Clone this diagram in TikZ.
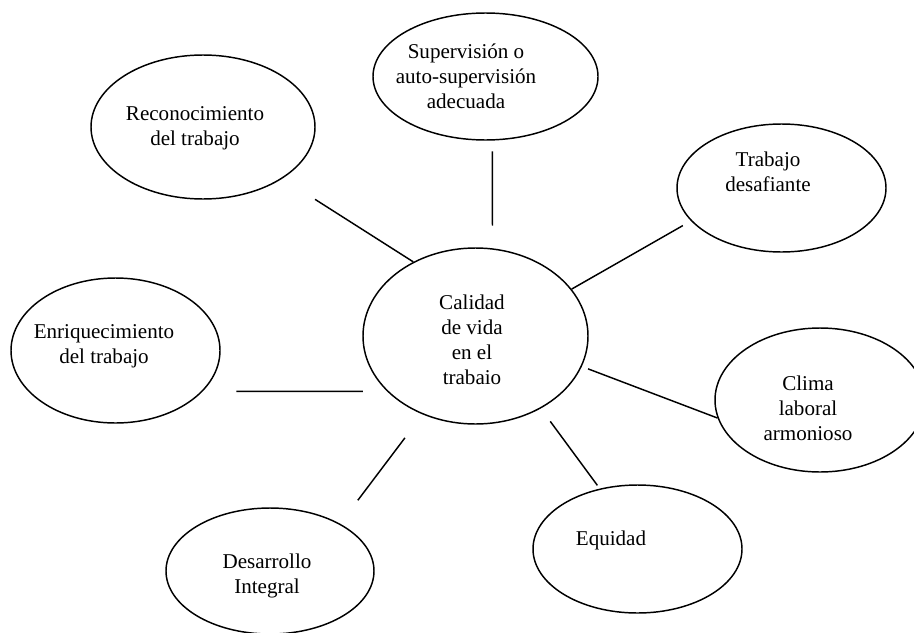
\documentclass[tikz,border=0pt]{standalone}
\usepackage{fontspec}
\setmainfont{Liberation Serif}
\usetikzlibrary{shapes.geometric}
\tikzset{
  burbuja/.style={draw, ellipse, line width=1.1pt, inner sep=0pt},
  texto/.style={align=center, inner sep=0pt, font=\fontsize{15.8}{18.8}\selectfont},
  enlace/.style={line width=1.1pt}
}
\begin{document}
\begin{tikzpicture}[x=0.75pt,y=0.75pt,yscale=-1,xscale=1]
        \useasboundingbox (0,0) rectangle (914,632);

        %Shape: Ellipse [centro]
        \node[burbuja, minimum width=168.75pt, minimum height=132pt] (calidad) at (475.5,336) {};
        %Shape: Ellipse
        \node[burbuja, minimum width=168pt, minimum height=108pt] (reconoc) at (203,127) {};
        %Shape: Ellipse
        \node[burbuja, minimum width=168.75pt, minimum height=95.25pt] (superv) at (485.5,76.5) {};
        %Shape: Ellipse
        \node[burbuja, minimum width=156.75pt, minimum height=96pt] (desaf) at (781.5,188) {};
        %Shape: Ellipse
        \node[burbuja, minimum width=156.75pt, minimum height=108.75pt] (enriq) at (115.5,350.5) {};
        %Shape: Ellipse
        \node[burbuja, minimum width=156pt, minimum height=94.5pt] (desarr) at (270,571) {};
        %Shape: Ellipse
        \node[burbuja, minimum width=157.5pt, minimum height=108pt] (clima) at (820,400) {};
        %Shape: Ellipse
        \node[burbuja, minimum width=156.75pt, minimum height=96pt] (equidad) at (637.5,549) {};

        %Text
        \node[texto] (calidadtxt) at (472,340) {Calidad\\de vida\\en el\\trabaio};
        \node[texto] (reconoctxt) at (195,128) {Reconocimiento\\del trabajo};
        \node[texto] (supervtxt) at (466,76) {Supervisión o\\auto-supervisión\\adecuada};
        \node[texto] (desaftxt) at (768,172) {Trabajo\\desafiante};
        \node[texto] (enriqtxt) at (104,346) {Enriquecimiento\\del trabajo};
        \node[texto] (desarrtxt) at (267,576) {Desarrollo\\Integral};
        \node[texto] (climatxt) at (808,408) {Clima\\laboral\\armonioso};
        \node[texto] (equidadtxt) at (611,540) {Equidad};

        %Straight Lines
        \draw[enlace, shorten >=29pt] (calidad.130) -- (reconoc.-33);
        %Straight Lines
        \draw[enlace, shorten <=17pt, shorten >=8pt] (calidad.79) -- (superv.-84);
        %Straight Lines
        \draw[enlace, shorten >=7pt] (calidad.26) -- (desaf.200);
        %Straight Lines
        \draw[enlace, shorten <=5pt] (calidad.-16) -- (clima.190);
        %Straight Lines
        \draw[enlace, shorten <=12pt, shorten >=3pt] (calidad.-48) -- (equidad.122);
        %Straight Lines
        \draw[enlace, shorten <=22pt, shorten >=22pt] (calidad.236) -- (desarr.34);
        %Straight Lines
        \draw[enlace, shorten <=18pt, shorten >=25pt] (calidad.212) -- (enriq.-25);

    \end{tikzpicture}
\end{document}
